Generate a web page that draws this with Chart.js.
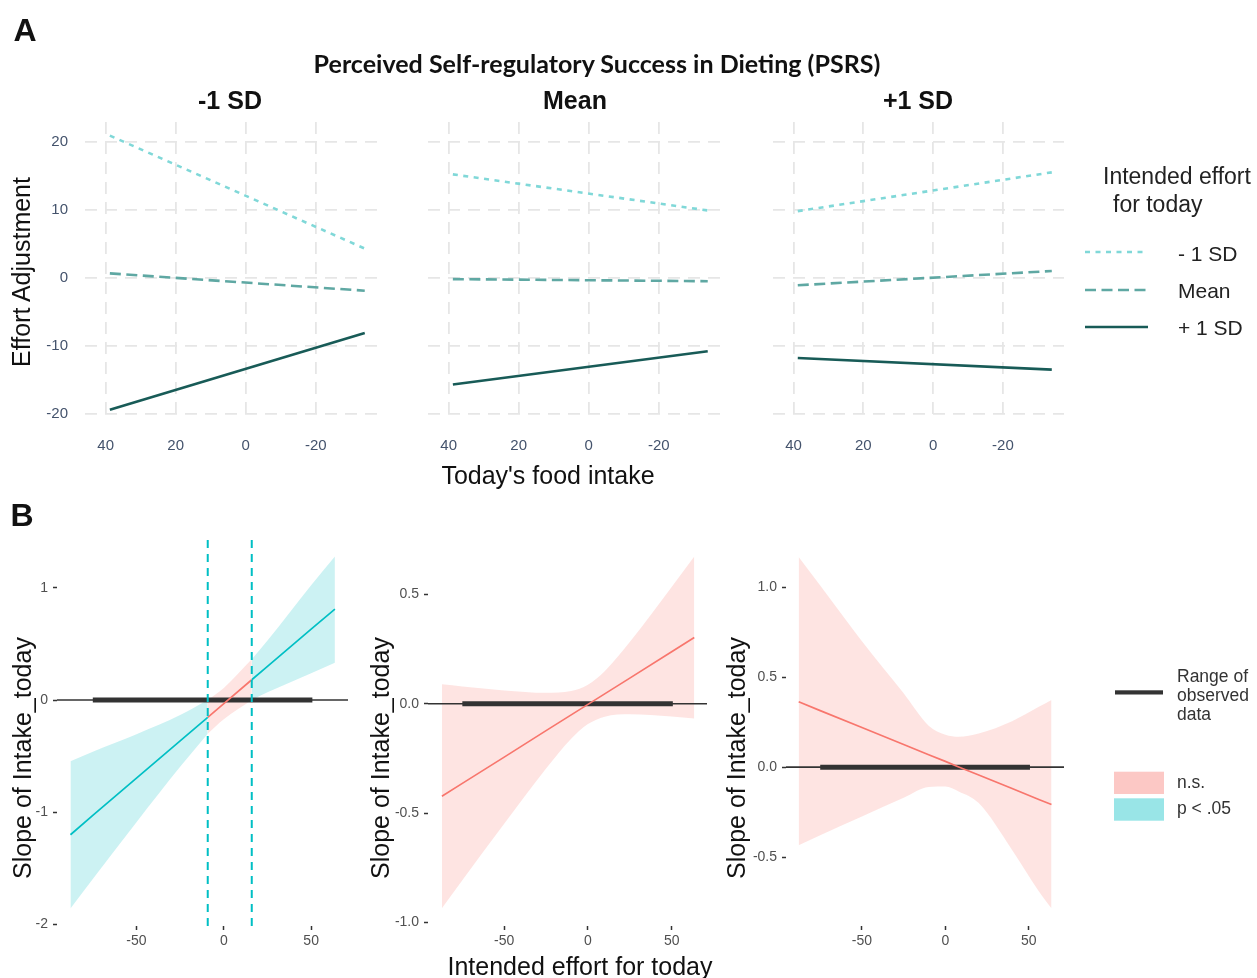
<!DOCTYPE html>
<html><head><meta charset="utf-8">
<script src="https://cdn.jsdelivr.net/npm/chart.js@4.4.1/dist/chart.umd.min.js"></script>
<style>
html,body{margin:0;padding:0;background:#fff;}
body{width:1257px;height:978px;overflow:hidden;position:relative;font-family:"Liberation Sans",Arial,sans-serif;}
canvas{position:absolute;}
.t{position:absolute;white-space:nowrap;color:#111;line-height:1;transform:translate(0,-50%);z-index:5;}
.c{transform:translate(-50%,-50%);}
.rot{transform:translate(-50%,-50%) rotate(-90deg);}
#leg{position:absolute;left:0;top:0;z-index:4;}
</style></head><body>
<canvas id="a1"></canvas><canvas id="a2"></canvas><canvas id="a3"></canvas>
<canvas id="b1"></canvas><canvas id="b2"></canvas><canvas id="b3"></canvas>
<svg id="leg" width="1257" height="978"></svg>

<div class="t c" style="left:25px;top:30px;font-weight:bold;font-size:32px;">A</div>
<div class="t c" id="mainTitle" style="left:597px;top:64px;font-weight:bold;font-size:21px;font-family:Lato,'Open Sans',sans-serif;">Perceived Self-regulatory Success in Dieting (PSRS)</div>
<div class="t c" id="pt0" style="left:230px;top:100px;font-weight:bold;font-size:25px;"></div>
<div class="t c" id="pt1" style="left:575px;top:100px;font-weight:bold;font-size:25px;"></div>
<div class="t c" id="pt2" style="left:918px;top:100px;font-weight:bold;font-size:25px;"></div>
<div class="t rot" style="left:21px;top:272px;font-size:25px;">Effort Adjustment</div>
<div class="t c" style="left:548px;top:475px;font-size:25px;">Today's food intake</div>
<div class="t" style="left:1103px;top:176px;font-size:23px;color:#222;">Intended effort</div>
<div class="t" style="left:1113px;top:204px;font-size:23px;color:#222;">for today</div>
<div class="t" id="ls0" style="left:1178px;top:253px;font-size:21px;color:#222;"></div>
<div class="t" id="ls1" style="left:1178px;top:290px;font-size:21px;color:#222;"></div>
<div class="t" id="ls2" style="left:1178px;top:327px;font-size:21px;color:#222;"></div>

<div class="t c" style="left:22px;top:515px;font-weight:bold;font-size:32px;">B</div>
<div class="t rot" style="left:21.5px;top:758px;font-size:25px;">Slope of Intake_today</div>
<div class="t rot" style="left:380px;top:758px;font-size:25px;">Slope of Intake_today</div>
<div class="t rot" style="left:736px;top:758px;font-size:25px;">Slope of Intake_today</div>
<div class="t c" style="left:580px;top:966px;font-size:25px;">Intended effort for today</div>
<div class="t" style="left:1177px;top:677px;font-size:17.5px;color:#333;">Range of</div>
<div class="t" style="left:1177px;top:696px;font-size:17.5px;color:#333;">observed</div>
<div class="t" style="left:1177px;top:715px;font-size:17.5px;color:#333;">data</div>
<div class="t" style="left:1177px;top:783px;font-size:17.5px;color:#333;">n.s.</div>
<div class="t" style="left:1177px;top:809px;font-size:17.5px;color:#333;">p &lt; .05</div>

<script>
// ---------------- Panel A data ----------------
const aPanels = ['-1 SD', 'Mean', '+1 SD'];           // PSRS levels
const aSeries = ['- 1 SD', 'Mean', '+ 1 SD'];          // intended effort levels
const aX = [38.8, -34];                                // today's food intake (line ends)
const aLow  = [[20.9, 4.3], [15.2, 9.9], [9.8, 15.5]];      // -1 SD intended effort
const aMean = [[0.65, -1.9], [-0.2, -0.5], [-1.1, 1.0]];    // mean intended effort
const aHigh = [[-19.4, -8.1], [-15.7, -10.8], [-11.8, -13.5]]; // +1 SD intended effort
const aXTicks = [40, 20, 0, -20];
const aYTicks = [-20, -10, 0, 10, 20];
const aXRange = [-37.5, 45.9];
const aYRange = [-21.2, 22.9];

// ---------------- Panel B data ----------------
const bXRange = [-95.5, 71.1];
const bXTicks = [-50, 0, 50];
const observedRange = [-75, 50.7];

const b1X     = [-87.8, -75, -50, -25, -9.2, 0, 16, 25, 50, 63.6];
const b1Fit   = [-1.20, -1.027, -0.696, -0.364, -0.154, -0.032, 0.181, 0.300, 0.632, 0.81];
const b1Upper = [-0.545, -0.46, -0.304, -0.133, 0.0, 0.108, 0.364, 0.531, 1.024, 1.278];
const b1Lower = [-1.856, -1.594, -1.088, -0.595, -0.30, -0.172, 0.0, 0.069, 0.24, 0.333];
const b1JN = [-9.2, 16];
const b1YRange = [-2.013, 1.435];
const b1YTicks = [-2, -1, 0, 1];

const b2X     = [-87.2, -75, -50, -25, -10, 0, 10, 25, 50, 63.5];
const b2Fit   = [-0.423, -0.364, -0.244, -0.123, -0.051, -0.003, 0.045, 0.117, 0.238, 0.303];
const b2Upper = [0.089, 0.079, 0.061, 0.050, 0.058, 0.087, 0.149, 0.282, 0.534, 0.673];
const b2Lower = [-0.935, -0.807, -0.549, -0.296, -0.160, -0.093, -0.059, -0.048, -0.058, -0.067];
const b2YRange = [-1.016, 0.753];
const b2YTicks = [-1.0, -0.5, 0.0, 0.5];

const b3X     = [-87.9, -75, -50, -25, -10, 0, 8, 20, 40, 56, 63.6];
const b3Fit   = [0.363, 0.314, 0.220, 0.126, 0.069, 0.032, 0.001, -0.044, -0.119, -0.180, -0.208];
const b3Upper = [1.168, 1.01, 0.70, 0.41, 0.23, 0.18, 0.169, 0.187, 0.255, 0.335, 0.373];
const b3Lower = [-0.434, -0.378, -0.274, -0.170, -0.11, -0.108, -0.135, -0.20, -0.46, -0.69, -0.785];
const b3YRange = [-0.883, 1.268];
const b3YTicks = [-0.5, 0.0, 0.5, 1.0];

// ---------------- styles ----------------
const colLow = '#80d8d8', colMean = '#5fa8a3', colHigh = '#185b57';
const gridCol = '#e6e6e6', tickColA = '#44536c', tickColB = '#505050';
const colSig = '#00BFC4', colNS = '#F8766D';
const fillSig = 'rgba(0,191,196,0.2)', fillNS = 'rgba(248,118,109,0.2)';

Chart.defaults.font.family = '"Liberation Sans", Arial, sans-serif';

function place(id, L, T, W, H) {
  const c = document.getElementById(id);
  c.width = Math.round(W); c.height = Math.round(H);
  c.style.left = L + 'px'; c.style.top = T + 'px';
  return c;
}
const fixedTicks = vals => s => { s.ticks = vals.map(v => ({ value: v })); };
function noPad(s) { s.paddingTop = 0; s.paddingBottom = 0; s.paddingLeft = 0; s.paddingRight = 0; }

function topChart(id, idx, area, showY) {
  const L = area.x1 - (showY ? 45 : 5), T = area.y1 - 7, R = area.x2 + 8, B = area.y2 + 40;
  const c = place(id, L, T, R - L, B - T);
  const pts = arr => aX.map((x, i) => ({ x: x, y: arr[idx][i] }));
  new Chart(c, {
    type: 'line',
    data: { datasets: [
      { label: aSeries[0], data: pts(aLow), borderColor: colLow, borderWidth: 2.6, borderDash: [5, 5.5], pointRadius: 0 },
      { label: aSeries[1], data: pts(aMean), borderColor: colMean, borderWidth: 2.6, borderDash: [11, 5.5], pointRadius: 0 },
      { label: aSeries[2], data: pts(aHigh), borderColor: colHigh, borderWidth: 2.6, pointRadius: 0 }
    ]},
    options: {
      responsive: false, animation: false, events: [],
      layout: { autoPadding: false, padding: { left: 0, top: area.y1 - T, right: R - area.x2, bottom: 0 } },
      plugins: { legend: { display: false }, tooltip: { enabled: false } },
      scales: {
        x: { type: 'linear', reverse: true, min: aXRange[0], max: aXRange[1],
             afterBuildTicks: fixedTicks(aXTicks), afterFit: s => { s.height = B - area.y2; noPad(s); },
             grid: { color: gridCol, lineWidth: 1.8, drawTicks: false },
             border: { display: false, dash: [12, 8] },
             ticks: { color: tickColA, font: { size: 15 }, padding: 15, maxRotation: 0, autoSkip: false } },
        y: { type: 'linear', min: aYRange[0], max: aYRange[1],
             afterBuildTicks: fixedTicks(aYTicks), afterFit: s => { s.width = area.x1 - L; noPad(s); },
             grid: { color: gridCol, lineWidth: 1.8, drawTicks: false },
             border: { display: false, dash: [12, 8] },
             ticks: { display: showY, color: tickColA, font: { size: 15 }, padding: 17 } }
      }
    }
  });
}

function bottomChart(id, area, X, fit, up, lo, yRange, yTicks, dec, regions, jn) {
  const L = area.x1 - area.yw, T = area.y1 - 8, R = area.x2 + 10, B = area.y2 + 35;
  const c = place(id, L, T, R - L, B - T);
  const ds = [];
  regions.forEach(r => {
    const idx = X.map((x, i) => i).filter(i => X[i] >= r.from && X[i] <= r.to);
    const mk = arr => idx.map(i => ({ x: X[i], y: arr[i] }));
    ds.push({ data: mk(up), borderWidth: 0, pointRadius: 0, fill: '+1', backgroundColor: r.sig ? fillSig : fillNS,
              cubicInterpolationMode: 'monotone', order: 6 });
    ds.push({ data: mk(lo), borderWidth: 0, pointRadius: 0, fill: false, cubicInterpolationMode: 'monotone', order: 6 });
    ds.push({ data: mk(fit), borderWidth: 1.7, pointRadius: 0, borderColor: r.sig ? colSig : colNS, fill: false, order: 2 });
  });
  ds.push({ data: bXRange.map(x => ({ x: x, y: 0 })), borderColor: '#333', borderWidth: 1.6, pointRadius: 0, fill: false, order: 3 });
  ds.push({ data: observedRange.map(x => ({ x: x, y: 0 })), borderColor: '#333', borderWidth: 5, borderCapStyle: 'butt', pointRadius: 0, fill: false, order: 3 });
  (jn || []).forEach(v => {
    ds.push({ data: yRange.map(y => ({ x: v, y: y })), borderColor: colSig, borderWidth: 2, borderDash: [8, 6], pointRadius: 0, fill: false, order: 1 });
  });
  new Chart(c, {
    type: 'line',
    data: { datasets: ds },
    options: {
      responsive: false, animation: false, events: [],
      layout: { autoPadding: false, padding: { left: 0, top: area.y1 - T, right: R - area.x2, bottom: 0 } },
      plugins: { legend: { display: false }, tooltip: { enabled: false } },
      scales: {
        x: { type: 'linear', min: bXRange[0], max: bXRange[1],
             afterBuildTicks: fixedTicks(bXTicks), afterFit: s => { s.height = B - area.y2; noPad(s); },
             grid: { display: true, drawOnChartArea: false, drawTicks: true, tickLength: 4, tickColor: '#333', tickWidth: 1.5 },
             border: { display: false },
             ticks: { color: tickColB, font: { size: 14 }, padding: 3, maxRotation: 0, autoSkip: false } },
        y: { type: 'linear', min: yRange[0], max: yRange[1],
             afterBuildTicks: fixedTicks(yTicks), afterFit: s => { s.width = area.yw; noPad(s); },
             grid: { display: true, drawOnChartArea: false, drawTicks: true, tickLength: 4, tickColor: '#333', tickWidth: 1.5 },
             border: { display: false },
             ticks: { color: tickColB, font: { size: 14 }, padding: 5, callback: v => Number(v).toFixed(dec) } }
      }
    }
  });
}

// Panel A charts
topChart('a1', 0, { x1: 85, x2: 377, y1: 121.7, y2: 421.7 }, true);
topChart('a2', 1, { x1: 428.3, x2: 720, y1: 121.7, y2: 421.7 }, false);
topChart('a3', 2, { x1: 773.3, x2: 1064, y1: 121.7, y2: 421.7 }, false);
aPanels.forEach((p, i) => { document.getElementById('pt' + i).textContent = p; });
aSeries.forEach((s, i) => { document.getElementById('ls' + i).textContent = s; });

// Panel B charts
bottomChart('b1', { x1: 57.3, x2: 348.3, y1: 538.5, y2: 925, yw: 37 }, b1X, b1Fit, b1Upper, b1Lower, b1YRange, b1YTicks, 0,
  [{ from: -Infinity, to: b1JN[0], sig: true }, { from: b1JN[0], to: b1JN[1], sig: false }, { from: b1JN[1], to: Infinity, sig: true }], b1JN);
bottomChart('b2', { x1: 427.8, x2: 706.7, y1: 538.5, y2: 925, yw: 42 }, b2X, b2Fit, b2Upper, b2Lower, b2YRange, b2YTicks, 1,
  [{ from: -Infinity, to: Infinity, sig: false }], null);
bottomChart('b3', { x1: 786, x2: 1064.3, y1: 538.5, y2: 925, yw: 41 }, b3X, b3Fit, b3Upper, b3Lower, b3YRange, b3YTicks, 1,
  [{ from: -Infinity, to: Infinity, sig: false }], null);

// Legends (symbols)
const svg = document.getElementById('leg');
svg.innerHTML =
  `<line x1="1085" y1="252" x2="1148" y2="252" stroke="${colLow}" stroke-width="2.6" stroke-dasharray="5 5.5"/>` +
  `<line x1="1085" y1="290" x2="1148" y2="290" stroke="${colMean}" stroke-width="2.6" stroke-dasharray="11 5.5"/>` +
  `<line x1="1085" y1="327" x2="1148" y2="327" stroke="${colHigh}" stroke-width="2.6"/>` +
  `<rect x="1115" y="690.3" width="48" height="4.2" fill="#333"/>` +
  `<rect x="1114" y="771.7" width="50" height="22.3" fill="#fcc8c5"/>` +
  `<rect x="1114" y="798.3" width="50" height="22.4" fill="#99e5e7"/>`;

// fit main title width to the reference (~567px)
const mt = document.getElementById('mainTitle');
const w = mt.getBoundingClientRect().width;
mt.style.fontSize = (21 * 567 / w) + 'px';
</script>
</body></html>
